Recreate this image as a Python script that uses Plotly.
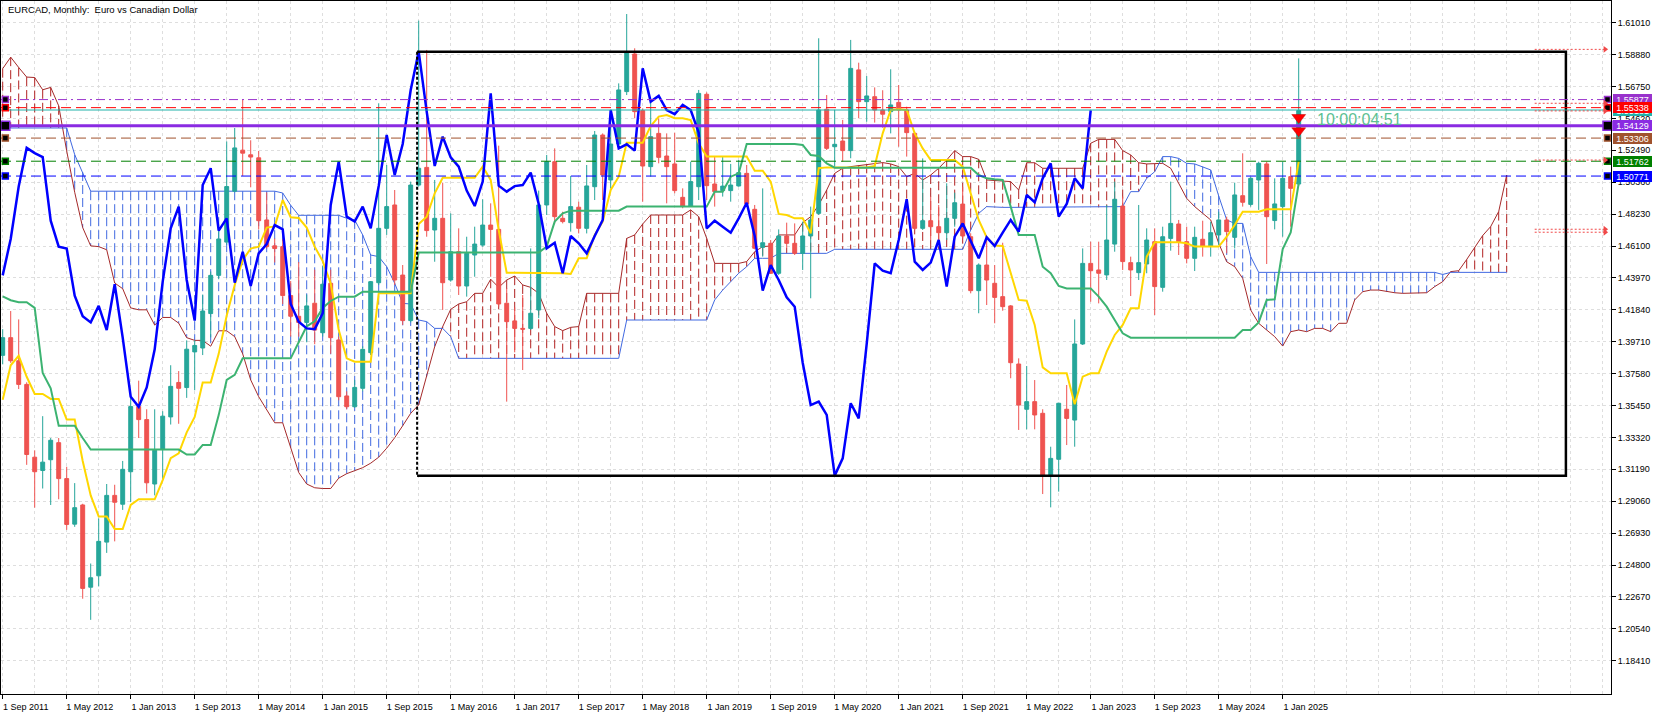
import plotly.graph_objects as go

# ---------------- data (month index 0 = Sep 2011 ... 162 = Mar 2025) ----------------
open_ = [1.3880, 1.3998, 1.3844, 1.3686, 1.3200, 1.3111, 1.3183, 1.3297, 1.3057, 1.2753,
         1.2881, 1.2332, 1.2408, 1.2633, 1.2945, 1.2886, 1.3103, 1.3538, 1.3451, 1.3021,
         1.3251, 1.3469, 1.3699, 1.3665, 1.3903, 1.3929, 1.4159, 1.4414, 1.4636, 1.4976,
         1.5250, 1.5219, 1.5199, 1.4784, 1.4611, 1.4606, 1.4279, 1.4141, 1.4100, 1.4228,
         1.4031, 1.4361, 1.3983, 1.3609, 1.3537, 1.3660, 1.3898, 1.4365, 1.4728, 1.4884,
         1.4416, 1.4112, 1.5017, 1.5135, 1.4717, 1.4795, 1.4383, 1.4572, 1.4343, 1.4550,
         1.4616, 1.4750, 1.4721, 1.4228, 1.4110, 1.4060, 1.4060, 1.4183, 1.4884, 1.5173,
         1.4795, 1.4766, 1.4869, 1.4728, 1.5006, 1.5351, 1.5051, 1.5291, 1.5641, 1.5892,
         1.5514, 1.5140, 1.5362, 1.5211, 1.5158, 1.4935, 1.4877, 1.5006, 1.5623, 1.5024,
         1.4980, 1.4980, 1.5011, 1.5095, 1.4855, 1.4601, 1.4628, 1.4428, 1.4677, 1.4628,
         1.4561, 1.4677, 1.4828, 1.5523, 1.5273, 1.5311, 1.5247, 1.5786, 1.5574, 1.5607,
         1.5518, 1.5507, 1.5569, 1.5518, 1.5362, 1.4728, 1.4779, 1.4739, 1.4699, 1.4795,
         1.4890, 1.4672, 1.4312, 1.4483, 1.4361, 1.4272, 1.4210, 1.3822, 1.3520, 1.3571,
         1.3493, 1.3074, 1.3186, 1.3520, 1.3448, 1.3956, 1.4494, 1.4450, 1.4417, 1.4623,
         1.4877, 1.4499, 1.4432, 1.4490, 1.4639, 1.4334, 1.4661, 1.4757, 1.4639, 1.4528,
         1.4655, 1.4610, 1.4684, 1.4784, 1.4668, 1.4946, 1.4888, 1.5051, 1.5158, 1.4780,
         1.4873, 1.5073, 1.5024]
high = [1.4055, 1.4176, 1.4120, 1.3700, 1.3246, 1.3474, 1.3328, 1.3328, 1.3136, 1.3027,
        1.2889, 1.2490, 1.2791, 1.3021, 1.3016, 1.3175, 1.3596, 1.3711, 1.3520, 1.3520,
        1.3507, 1.3814, 1.3775, 1.3980, 1.3980, 1.4286, 1.4440, 1.4733, 1.5308, 1.5398,
        1.5589, 1.5316, 1.5245, 1.4968, 1.4660, 1.4657, 1.4376, 1.4503, 1.4286, 1.4452,
        1.4478, 1.4452, 1.4005, 1.3640, 1.3715, 1.3940, 1.4376, 1.5563, 1.5151, 1.4984,
        1.4483, 1.5040, 1.6115, 1.5919, 1.5051, 1.5033, 1.4828, 1.4728, 1.4672, 1.4739,
        1.4922, 1.4895, 1.5280, 1.4327, 1.4200, 1.4283, 1.4594, 1.4980, 1.5218, 1.5262,
        1.4839, 1.5078, 1.4906, 1.5151, 1.5378, 1.5362, 1.5518, 1.5696, 1.6159, 1.5930,
        1.5529, 1.5574, 1.5463, 1.5362, 1.5367, 1.4995, 1.5173, 1.5652, 1.5636, 1.5207,
        1.5207, 1.5158, 1.5184, 1.5151, 1.4884, 1.4995, 1.4650, 1.4721, 1.4766, 1.4761,
        1.4773, 1.4873, 1.5997, 1.5618, 1.5518, 1.5452, 1.5986, 1.5834, 1.5745, 1.5669,
        1.5650, 1.5790, 1.5685, 1.5540, 1.5373, 1.5195, 1.4940, 1.4884, 1.5029, 1.4966,
        1.5006, 1.4695, 1.4494, 1.4650, 1.4483, 1.4632, 1.4216, 1.3860, 1.3809, 1.3715,
        1.3520, 1.3270, 1.3564, 1.3682, 1.4120, 1.4594, 1.4639, 1.4639, 1.4884, 1.5040,
        1.4940, 1.4539, 1.4884, 1.4728, 1.4728, 1.4739, 1.5040, 1.4784, 1.4739, 1.4739,
        1.4779, 1.4772, 1.4839, 1.4806, 1.5033, 1.5229, 1.5073, 1.5173, 1.5173, 1.5062,
        1.5173, 1.5140, 1.5863]
low = [1.3820, 1.3830, 1.3655, 1.3149, 1.2863, 1.2991, 1.2881, 1.2919, 1.2715, 1.2735,
       1.2255, 1.2114, 1.2337, 1.2561, 1.2638, 1.2848, 1.2900, 1.3328, 1.2958, 1.2945,
       1.3052, 1.3418, 1.3423, 1.3596, 1.3647, 1.3882, 1.4000, 1.4388, 1.4618, 1.4968,
       1.5078, 1.5002, 1.4721, 1.4593, 1.4500, 1.4222, 1.4005, 1.4005, 1.3967, 1.3954,
       1.4005, 1.3890, 1.3580, 1.3520, 1.3530, 1.3640, 1.3882, 1.4349, 1.4684, 1.4350,
       1.4083, 1.4100, 1.5006, 1.4672, 1.4505, 1.4183, 1.4372, 1.4283, 1.4272, 1.4405,
       1.4605, 1.4405, 1.4205, 1.3571, 1.3900, 1.3782, 1.4050, 1.4128, 1.4817, 1.4761,
       1.4761, 1.4706, 1.4694, 1.4694, 1.4917, 1.4917, 1.4995, 1.5273, 1.5618, 1.5463,
       1.4906, 1.5073, 1.5162, 1.4895, 1.4962, 1.4862, 1.4873, 1.4917, 1.4917, 1.4873,
       1.4940, 1.4906, 1.5006, 1.4873, 1.4588, 1.4539, 1.4423, 1.4417, 1.4595, 1.4550,
       1.4450, 1.4261, 1.4817, 1.5251, 1.5129, 1.5173, 1.5196, 1.5463, 1.5440, 1.5434,
       1.5400, 1.5362, 1.5273, 1.5207, 1.4717, 1.4717, 1.4650, 1.4650, 1.4650, 1.4739,
       1.4661, 1.4294, 1.4161, 1.4216, 1.4094, 1.4178, 1.3727, 1.3382, 1.3386, 1.3386,
       1.2954, 1.2865, 1.2970, 1.3281, 1.3270, 1.3949, 1.4238, 1.4227, 1.4383, 1.4572,
       1.4450, 1.4276, 1.4383, 1.4428, 1.4149, 1.4305, 1.4579, 1.4550, 1.4494, 1.4443,
       1.4539, 1.4539, 1.4617, 1.4561, 1.4594, 1.4873, 1.4873, 1.4851, 1.4490, 1.4721,
       1.4672, 1.4739, 1.5010]
close = [1.3998, 1.3844, 1.3686, 1.3218, 1.3103, 1.3167, 1.3313, 1.3057, 1.2751, 1.2863,
         1.2324, 1.2395, 1.2638, 1.2945, 1.2899, 1.3119, 1.3538, 1.3451, 1.3029, 1.3246,
         1.3474, 1.3673, 1.3660, 1.3921, 1.3946, 1.4176, 1.4414, 1.4657, 1.5007, 1.5265,
         1.5230, 1.5204, 1.4779, 1.4606, 1.4593, 1.4279, 1.4141, 1.4100, 1.4210, 1.4049,
         1.4355, 1.3998, 1.3604, 1.3537, 1.3666, 1.3920, 1.4372, 1.4728, 1.4873, 1.4383,
         1.4112, 1.5017, 1.5129, 1.4713, 1.4795, 1.4365, 1.4572, 1.4343, 1.4561, 1.4623,
         1.4750, 1.4721, 1.4223, 1.4105, 1.4060, 1.4055, 1.4161, 1.4884, 1.5173, 1.4806,
         1.4773, 1.4873, 1.4728, 1.5011, 1.5351, 1.5084, 1.5291, 1.5652, 1.5908, 1.5507,
         1.5144, 1.5340, 1.5202, 1.5140, 1.4980, 1.4877, 1.5040, 1.5629, 1.5013, 1.4973,
         1.5010, 1.5017, 1.5100, 1.4891, 1.4595, 1.4632, 1.4428, 1.4677, 1.4628, 1.4561,
         1.4677, 1.4784, 1.5518, 1.5262, 1.5289, 1.5247, 1.5796, 1.5574, 1.5612, 1.5518,
         1.5490, 1.5552, 1.5518, 1.5367, 1.4728, 1.4779, 1.4739, 1.4699, 1.4795, 1.4899,
         1.4677, 1.4312, 1.4483, 1.4383, 1.4267, 1.4205, 1.3831, 1.3548, 1.3571, 1.3482,
         1.3077, 1.3192, 1.3560, 1.3459, 1.3956, 1.4494, 1.4445, 1.4428, 1.4650, 1.4922,
         1.4506, 1.4450, 1.4499, 1.4650, 1.4339, 1.4672, 1.4761, 1.4639, 1.4528, 1.4668,
         1.4610, 1.4699, 1.4784, 1.4706, 1.4951, 1.4902, 1.5062, 1.5162, 1.4806, 1.4891,
         1.5062, 1.4995, 1.5515]

tenkan = [1.3584, 1.3814, 1.3877, 1.3737, 1.3622, 1.3622, 1.3589, 1.3589, 1.3451, 1.3451,
          1.3175, 1.2945, 1.2804, 1.2804, 1.2720, 1.2720, 1.2881, 1.2919, 1.2919, 1.2919,
          1.3047, 1.3193, 1.3226, 1.3366, 1.3469, 1.3699, 1.3699, 1.3890, 1.4146, 1.4350,
          1.4516, 1.4593, 1.4606, 1.4733, 1.4741, 1.4917, 1.4802, 1.4797, 1.4733, 1.4606,
          1.4509, 1.4360, 1.4050, 1.3860, 1.3838, 1.3838, 1.3838, 1.4294, 1.4294, 1.4294,
          1.4294, 1.4294, 1.4757, 1.4806, 1.4962, 1.5066, 1.5066, 1.5066, 1.5066, 1.5066,
          1.5140, 1.5051, 1.4717, 1.4432, 1.4432, 1.4432, 1.4432, 1.4432, 1.4432, 1.4432,
          1.4428, 1.4423, 1.4528, 1.4528, 1.4684, 1.4773, 1.4984, 1.5073, 1.5300, 1.5300,
          1.5300, 1.5411, 1.5474, 1.5485, 1.5463, 1.5463, 1.5451, 1.5296, 1.5207, 1.5207,
          1.5207, 1.5207, 1.5207, 1.5207, 1.5113, 1.5113, 1.5040, 1.4824, 1.4817, 1.4795,
          1.4795, 1.4695, 1.5129, 1.5135, 1.5135, 1.5135, 1.5135, 1.5135, 1.5135, 1.5144,
          1.5362, 1.5518, 1.5523, 1.5518, 1.5362, 1.5262, 1.5184, 1.5184, 1.5184, 1.5184,
          1.5140, 1.4962, 1.4784, 1.4668, 1.4614, 1.4610, 1.4428, 1.4250, 1.4245, 1.4083,
          1.3800, 1.3760, 1.3760, 1.3760, 1.3553, 1.3738, 1.3760, 1.3760, 1.3905, 1.4016,
          1.4083, 1.4194, 1.4194, 1.4539, 1.4635, 1.4635, 1.4635, 1.4635, 1.4628, 1.4606,
          1.4606, 1.4606, 1.4606, 1.4672, 1.4750, 1.4839, 1.4839, 1.4839, 1.4855, 1.4855,
          1.4855, 1.4855, 1.5173]
kijun = [1.4274, 1.4248, 1.4235, 1.4235, 1.4197, 1.3762, 1.3660, 1.3410, 1.3410, 1.3410,
         1.3328, 1.3251, 1.3251, 1.3251, 1.3251, 1.3251, 1.3251, 1.3251, 1.3251, 1.3251,
         1.3251, 1.3251, 1.3251, 1.3218, 1.3218, 1.3282, 1.3282, 1.3481, 1.3716, 1.3750,
         1.3860, 1.3860, 1.3860, 1.3860, 1.3860, 1.3860, 1.3860, 1.3967, 1.4074, 1.4107,
         1.4197, 1.4243, 1.4272, 1.4272, 1.4272, 1.4305, 1.4305, 1.4305, 1.4305, 1.4305,
         1.4305, 1.4305, 1.4566, 1.4566, 1.4566, 1.4566, 1.4566, 1.4566, 1.4566, 1.4566,
         1.4566, 1.4566, 1.4566, 1.4566, 1.4566, 1.4566, 1.4566, 1.4566, 1.4606, 1.4773,
         1.4828, 1.4846, 1.4846, 1.4846, 1.4846, 1.4846, 1.4846, 1.4846, 1.4873, 1.4873,
         1.4873, 1.4873, 1.4873, 1.4873, 1.4873, 1.4873, 1.4873, 1.4873, 1.4873, 1.4973,
         1.4973, 1.5073, 1.5095, 1.5291, 1.5291, 1.5291, 1.5291, 1.5291, 1.5291, 1.5291,
         1.5285, 1.5218, 1.5211, 1.5162, 1.5133, 1.5133, 1.5133, 1.5133, 1.5133, 1.5133,
         1.5133, 1.5133, 1.5133, 1.5133, 1.5133, 1.5133, 1.5133, 1.5133, 1.5133, 1.5133,
         1.5133, 1.5133, 1.5084, 1.5062, 1.5055, 1.5051, 1.4873, 1.4684, 1.4684, 1.4684,
         1.4472, 1.4428, 1.4343, 1.4327, 1.4327, 1.4327, 1.4327, 1.4272, 1.4205, 1.4116,
         1.4027, 1.3998, 1.3998, 1.3998, 1.3998, 1.3998, 1.3998, 1.3998, 1.3998, 1.3998,
         1.3998, 1.3998, 1.3998, 1.3998, 1.3998, 1.4049, 1.4049, 1.4100, 1.4250, 1.4254,
         1.4590, 1.4700, 1.5029]
# Senkou spans, month index 0 ... 188 (26 months beyond the last bar)
span_a = [1.5794, 1.5871, 1.5802, 1.5738, 1.5735, 1.5653, 1.5669, 1.5546, 1.5245, 1.4969,
          1.4733, 1.4611, 1.4606, 1.4585, 1.4363, 1.4325, 1.4197, 1.4184, 1.4184, 1.4082,
          1.4133, 1.4133, 1.4095, 1.3998, 1.3980, 1.3980, 1.3941, 1.4044, 1.4044, 1.4005,
          1.3890, 1.3716, 1.3604, 1.3512, 1.3430, 1.3430, 1.3264, 1.3098, 1.3021, 1.2996,
          1.2991, 1.2991, 1.3060, 1.3090, 1.3110, 1.3130, 1.3160, 1.3200, 1.3260, 1.3330,
          1.3410, 1.3493, 1.3549, 1.3738, 1.3938, 1.4072, 1.4187, 1.4223, 1.4238, 1.4294,
          1.4294, 1.4388, 1.4334, 1.4383, 1.4410, 1.4350, 1.4334, 1.4294, 1.4161, 1.4072,
          1.4045, 1.4067, 1.4072, 1.4294, 1.4294, 1.4294, 1.4294, 1.4294, 1.4661, 1.4684,
          1.4757, 1.4817, 1.4817, 1.4817, 1.4817, 1.4817, 1.4851, 1.4806, 1.4661, 1.4494,
          1.4494, 1.4494, 1.4494, 1.4506, 1.4572, 1.4606, 1.4610, 1.4684, 1.4684, 1.4684,
          1.4766, 1.4806, 1.4884, 1.4984, 1.5095, 1.5129, 1.5140, 1.5147, 1.5155, 1.5162,
          1.5167, 1.5158, 1.5140, 1.5073, 1.5095, 1.5051, 1.5084, 1.5129, 1.5184, 1.5247,
          1.5207, 1.5207, 1.5189, 1.5051, 1.5046, 1.5046, 1.5040, 1.4984, 1.5166, 1.5166,
          1.5129, 1.5129, 1.5129, 1.5129, 1.5129, 1.5129, 1.5296, 1.5322, 1.5322, 1.5322,
          1.5247, 1.5218, 1.5166, 1.5158, 1.5160, 1.5162, 1.5129, 1.5029, 1.4928, 1.4873,
          1.4828, 1.4784, 1.4628, 1.4505, 1.4472, 1.4394, 1.4183, 1.4094, 1.4049, 1.4005,
          1.3942, 1.4038, 1.4049, 1.4038, 1.4060, 1.4060, 1.4038, 1.4094, 1.4094, 1.4250,
          1.4305, 1.4316, 1.4316, 1.4305, 1.4298, 1.4294, 1.4294, 1.4294, 1.4298, 1.4339,
          1.4372, 1.4439, 1.4445, 1.4520, 1.4600, 1.4680, 1.4740, 1.4840, 1.5084]
span_b = [1.5398, 1.5398, 1.5398, 1.5398, 1.5398, 1.5398, 1.5398, 1.5398, 1.5398, 1.5220,
          1.5104, 1.4976, 1.4976, 1.4976, 1.4976, 1.4976, 1.4976, 1.4976, 1.4976, 1.4976,
          1.4976, 1.4976, 1.4976, 1.4976, 1.4976, 1.4976, 1.4976, 1.4976, 1.4976, 1.4976,
          1.4976, 1.4976, 1.4976, 1.4976, 1.4976, 1.4964, 1.4882, 1.4815, 1.4815, 1.4815,
          1.4815, 1.4815, 1.4815, 1.4795, 1.4784, 1.4684, 1.4550, 1.4539, 1.4472, 1.4361,
          1.4227, 1.4223, 1.4116, 1.4105, 1.4060, 1.4060, 1.4005, 1.3860, 1.3860, 1.3860,
          1.3860, 1.3860, 1.3860, 1.3860, 1.3860, 1.3860, 1.3860, 1.3860, 1.3860, 1.3860,
          1.3860, 1.3860, 1.3860, 1.3860, 1.3860, 1.3860, 1.3860, 1.3860, 1.4116, 1.4116,
          1.4116, 1.4116, 1.4116, 1.4116, 1.4116, 1.4116, 1.4116, 1.4116, 1.4116, 1.4250,
          1.4316, 1.4372, 1.4428, 1.4472, 1.4528, 1.4528, 1.4528, 1.4561, 1.4561, 1.4561,
          1.4561, 1.4561, 1.4561, 1.4561, 1.4588, 1.4588, 1.4588, 1.4588, 1.4588, 1.4588,
          1.4588, 1.4588, 1.4588, 1.4588, 1.4588, 1.4588, 1.4588, 1.4588, 1.4588, 1.4588,
          1.4588, 1.4717, 1.4828, 1.4873, 1.4868, 1.4868, 1.4868, 1.4868, 1.4868, 1.4868,
          1.4868, 1.4868, 1.4868, 1.4868, 1.4868, 1.4868, 1.4868, 1.4868, 1.4868, 1.4868,
          1.4873, 1.4973, 1.4973, 1.5062, 1.5106, 1.5207, 1.5207, 1.5195, 1.5162, 1.5158,
          1.5140, 1.5118, 1.4944, 1.4784, 1.4761, 1.4761, 1.4539, 1.4434, 1.4434, 1.4434,
          1.4434, 1.4434, 1.4434, 1.4434, 1.4434, 1.4434, 1.4434, 1.4434, 1.4434, 1.4434,
          1.4434, 1.4434, 1.4434, 1.4434, 1.4434, 1.4434, 1.4434, 1.4434, 1.4434, 1.4434,
          1.4420, 1.4434, 1.4434, 1.4434, 1.4434, 1.4434, 1.4434, 1.4434, 1.4434]

CHIKOU_SHIFT = 26

x_tick_pos = [0, 8, 16, 24, 32, 40, 48, 56, 64, 72, 80, 88, 96, 104, 112, 120, 128, 136, 144, 152, 160]
x_tick_text = ["1 Sep 2011", "1 May 2012", "1 Jan 2013", "1 Sep 2013", "1 May 2014", "1 Jan 2015",
               "1 Sep 2015", "1 May 2016", "1 Jan 2017", "1 Sep 2017", "1 May 2018", "1 Jan 2019",
               "1 Sep 2019", "1 May 2020", "1 Jan 2021", "1 Sep 2021", "1 May 2022", "1 Jan 2023",
               "1 Sep 2023", "1 May 2024", "1 Jan 2025"]
y_tick_vals = [1.18410, 1.20540, 1.22670, 1.24800, 1.26930, 1.29060, 1.31190, 1.33320, 1.35450,
               1.37580, 1.39710, 1.41840, 1.43970, 1.46100, 1.48230, 1.50360, 1.52490, 1.54620,
               1.56750, 1.58880, 1.61010]

# horizontal price levels (chart objects)
level_prices = [1.55877, 1.55181, 1.55338, 1.54129, 1.53306, 1.51762, 1.50771]
level_colors = ["#9932CC", "#20B2AA", "#FF0000", "#8A2BE2", "#A0522D", "#008000", "#0000FF"]
level_dash = ["9px,4px,2px,4px", "solid", "10px,5px", "solid", "10px,5px", "10px,5px", "10px,5px"]
level_width = [1, 1, 1, 3, 1, 1, 1]
level_marker = [True, False, True, True, True, True, True]

# rectangle object
rect_x = [51.8, 195.4]
rect_y = [1.3076, 1.5907]

# dotted red arrow levels at the right
arrow_prices = [1.5923, 1.5563, 1.5512, 1.5184, 1.4722, 1.4702]
arrow_x = [191.5, 200.3]

# red signal triangles on the last bar
signal_x = [162, 162]
signal_prices = [1.5468, 1.5379]

timer_text = "10:00:04:51"
timer_pos = (164.0, 1.5458)

title_text = "EURCAD, Monthly:  Euro vs Canadian Dollar"

# ---------------- geometry ----------------
X_RANGE = [-0.2125, 201.0375]
Y_RANGE = [1.16189, 1.62459]
UP, DN = "#26A69A", "#EF5350"
GRID = "#DEDEDE"
FONT = "Liberation Sans"

months = list(range(len(close)))
cloud_x = list(range(len(span_a)))

fig = go.Figure()

# ---- cloud hatch (bottom subplot layer) ----
hx_b, hy_b, hx_r, hy_r = [], [], [], []
for m, a, b in zip(cloud_x, span_a, span_b):
    top, bot = max(a, b), min(a, b)
    if a >= b:
        hx_r += [m, m, None]; hy_r += [top, bot, None]
    else:
        hx_b += [m, m, None]; hy_b += [top, bot, None]
fig.add_trace(go.Scatter(x=hx_r, y=hy_r, mode="lines", line=dict(color="#B22222", width=1, dash="9px,4px"),
                         hoverinfo="skip", xaxis="x", yaxis="y"))
fig.add_trace(go.Scatter(x=hx_b, y=hy_b, mode="lines", line=dict(color="#4169E1", width=1, dash="9px,4px"),
                         hoverinfo="skip", xaxis="x", yaxis="y"))
fig.add_trace(go.Scatter(x=cloud_x, y=span_a, mode="lines", line=dict(color="#A52A2A", width=1),
                         hoverinfo="skip", xaxis="x", yaxis="y"))
fig.add_trace(go.Scatter(x=cloud_x, y=span_b, mode="lines", line=dict(color="#4169E1", width=1),
                         hoverinfo="skip", xaxis="x", yaxis="y"))

# ---- candles (overlay subplot) ----
fig.add_trace(go.Candlestick(x=months, open=open_, high=high, low=low, close=close,
                             increasing=dict(line=dict(color=UP, width=1), fillcolor=UP),
                             decreasing=dict(line=dict(color=DN, width=1), fillcolor=DN),
                             whiskerwidth=0, hoverinfo="skip", xaxis="x2", yaxis="y2"))

# ---- Ichimoku lines ----
fig.add_trace(go.Scatter(x=months, y=tenkan, mode="lines", line=dict(color="#FFD700", width=2),
                         hoverinfo="skip", xaxis="x2", yaxis="y2"))
fig.add_trace(go.Scatter(x=months, y=kijun, mode="lines", line=dict(color="#3CB371", width=2),
                         hoverinfo="skip", xaxis="x2", yaxis="y2"))
chikou_x = [m - CHIKOU_SHIFT for m in months[CHIKOU_SHIFT:]]
chikou_y = close[CHIKOU_SHIFT:]
fig.add_trace(go.Scatter(x=chikou_x, y=chikou_y, mode="lines", line=dict(color="#0000FF", width=2.5),
                         hoverinfo="skip", xaxis="x2", yaxis="y2"))

# ---- rectangle ----
fig.add_trace(go.Scatter(x=[rect_x[0], rect_x[1], rect_x[1], rect_x[0]],
                         y=[rect_y[1], rect_y[1], rect_y[0], rect_y[0]],
                         mode="lines", line=dict(color="black", width=2.5),
                         hoverinfo="skip", xaxis="x2", yaxis="y2"))
fig.add_trace(go.Scatter(x=[rect_x[0], rect_x[0]], y=[rect_y[1], rect_y[0]],
                         mode="lines", line=dict(color="black", width=2, dash="3px,2px"),
                         hoverinfo="skip", xaxis="x2", yaxis="y2"))

# ---- horizontal levels ----
LEFT_SQ, RIGHT_SQ = 0.33, 200.6
for p, c, d, w, mk in zip(level_prices, level_colors, level_dash, level_width, level_marker):
    fig.add_trace(go.Scatter(x=[X_RANGE[0], X_RANGE[1]], y=[p, p], mode="lines",
                             line=dict(color=c, width=w, dash=d), hoverinfo="skip",
                             xaxis="x2", yaxis="y2"))
    if mk:
        fig.add_trace(go.Scatter(x=[LEFT_SQ, RIGHT_SQ], y=[p, p], mode="markers",
                                 marker=dict(symbol="square", size=9 if w > 1 else 6, color="black",
                                             line=dict(color=c, width=1.5)),
                                 hoverinfo="skip", xaxis="x2", yaxis="y2", cliponaxis=False))

# ---- red dotted arrows ----
for p in arrow_prices:
    fig.add_trace(go.Scatter(x=arrow_x, y=[p, p], mode="lines",
                             line=dict(color="#F04848", width=1, dash="2px,2px"),
                             hoverinfo="skip", xaxis="x2", yaxis="y2"))
    fig.add_trace(go.Scatter(x=[arrow_x[1]], y=[p], mode="markers",
                             marker=dict(symbol="triangle-right", size=6, color="#F04848"),
                             hoverinfo="skip", xaxis="x2", yaxis="y2"))

# ---- signal triangles ----
fig.add_trace(go.Scatter(x=signal_x, y=signal_prices, mode="markers",
                         marker=dict(symbol="triangle-down", size=12, color="#FF0000",
                                     line=dict(color="#C00000", width=0.5)),
                         hoverinfo="skip", xaxis="x2", yaxis="y2"))

# ---------------- annotations ----------------
annotations = []
label_x = (1612.7 - 1) / 1610.0
for p, c in zip(level_prices, level_colors):
    annotations.append(dict(xref="paper", yref="y", x=label_x, y=p, xanchor="left", yanchor="middle",
                            text=f"{p:.5f}", showarrow=False, bgcolor=c, borderpad=0, borderwidth=0,
                            width=39, height=11, font=dict(family=FONT, size=9, color="white")))
annotations.append(dict(xref="x", yref="y", x=timer_pos[0], y=timer_pos[1], xanchor="left",
                        yanchor="middle", text=timer_text, showarrow=False,
                        font=dict(family=FONT, size=16, color="#5CC092")))
annotations.append(dict(xref="paper", yref="paper", x=0.0031, y=0.9877, xanchor="left", yanchor="middle",
                        text=title_text, showarrow=False, font=dict(family=FONT, size=9.5, color="black")))

minor_grid = [v for v in range(4, 201, 4) if v not in x_tick_pos]

fig.update_layout(
    width=1663, height=715,
    margin=dict(l=1, r=52, t=1, b=21, pad=0),
    paper_bgcolor="white", plot_bgcolor="white",
    showlegend=False,
    font=dict(family=FONT, size=9, color="black"),
    annotations=annotations,
    xaxis=dict(range=X_RANGE, tickmode="array", tickvals=x_tick_pos, ticktext=x_tick_text,
               ticks="outside", ticklen=4, tickcolor="black", ticklabelshift=23,
               showgrid=True, gridcolor=GRID, griddash="3px,3px", gridwidth=1,
               minor=dict(tickmode="array", tickvals=minor_grid, showgrid=True, gridcolor=GRID,
                          griddash="3px,3px", ticks=""),
               showline=True, linecolor="black", linewidth=1, mirror=True, zeroline=False,
               rangeslider=dict(visible=False), fixedrange=True,
               tickfont=dict(family=FONT, size=9, color="black")),
    yaxis=dict(range=Y_RANGE, side="right", tickmode="array", tickvals=y_tick_vals,
               ticktext=[f"{v:.5f}" for v in y_tick_vals],
               ticks="outside", ticklen=4, tickcolor="black",
               showgrid=True, gridcolor=GRID, griddash="3px,3px", gridwidth=1,
               showline=True, linecolor="black", linewidth=1, mirror=True, zeroline=False,
               fixedrange=True, tickfont=dict(family=FONT, size=9, color="black")),
    xaxis2=dict(range=X_RANGE, overlaying="x", visible=False, rangeslider=dict(visible=False),
                fixedrange=True),
    yaxis2=dict(range=Y_RANGE, overlaying="y", visible=False, fixedrange=True),
)

# remove the browser's default 8px page margin so the chart sits at the window's top-left corner
fig.write_html("out.html", config={"displayModeBar": False},
               post_script="document.body.style.margin='0';document.body.style.overflow='hidden';")
